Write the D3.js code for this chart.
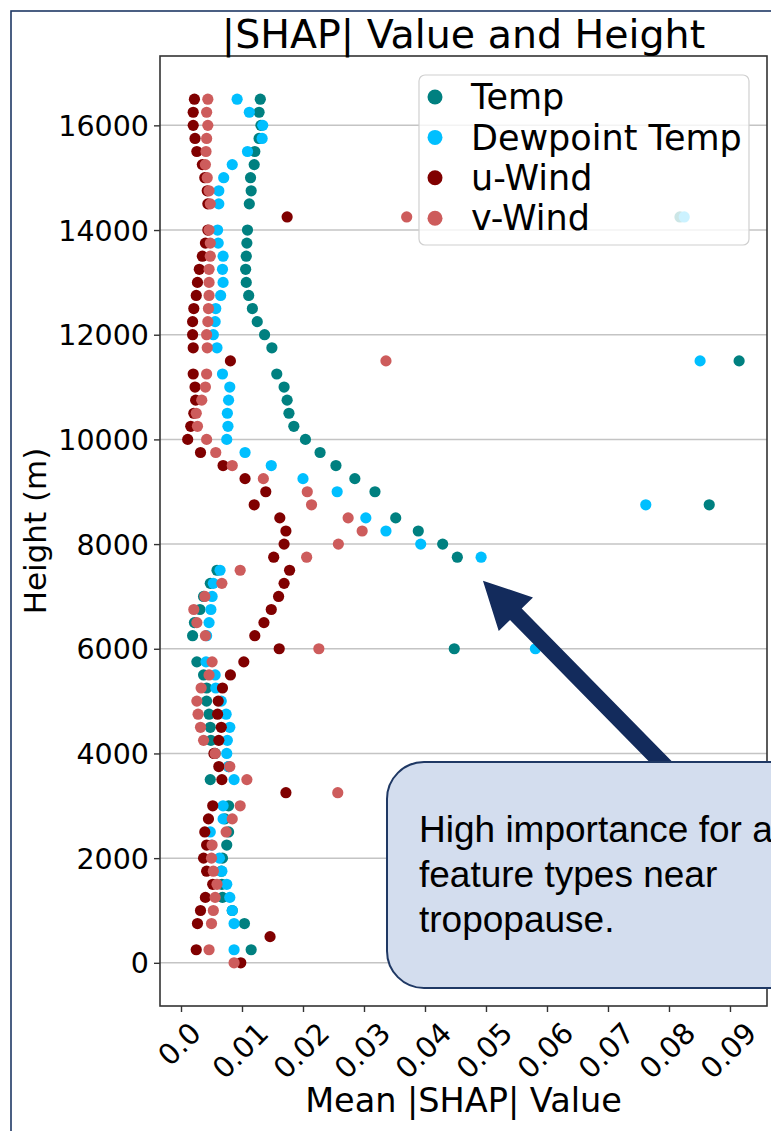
<!DOCTYPE html>
<html>
<head>
<meta charset="utf-8">
<script src="https://cdn.jsdelivr.net/npm/d3@7"></script>
<style>
  html, body { margin: 0; padding: 0; background: #ffffff; }
  svg { display: block; }
</style>
</head>
<body>
<svg id="chart" width="771" height="1131"></svg>
<script>
// Height levels (m), listed from the top level down to the surface
const heights = [16500,16250,16000,15750,15500,15250,15000,14750,14500,14250,
  14000,13750,13500,13250,13000,12750,12500,12250,12000,11750,
  11500,11250,11000,10750,10500,10250,10000,9750,9500,9250,
  9000,8750,8500,8250,8000,7750,7500,7250,7000,6750,
  6500,6250,6000,5750,5500,5250,5000,4750,4500,4250,
  4000,3750,3500,3250,3000,2750,2500,2250,2000,1750,
  1500,1250,1000,750,500,250,0];

// Mean |SHAP| value per level for each feature type (null = no point drawn)
const tempShap = [0.0130,0.0128,0.0131,0.0128,0.0121,0.0120,0.0114,0.0115,0.0112,0.0818,
  0.0109,0.0108,0.0107,0.0106,0.0107,0.0111,0.0117,0.0125,0.0137,0.0149,
  0.0915,0.0157,0.0169,0.0174,0.0177,0.0185,0.0204,0.0228,0.0254,0.0285,
  0.0318,0.0866,0.0352,0.0389,0.0429,0.0453,0.0059,0.0048,0.0037,0.0031,
  0.0022,0.0019,0.0448,0.0026,0.0037,0.0042,0.0042,0.0046,0.0048,0.0049,
  0.0056,0.0078,0.0048,null,0.0078,0.0072,0.0078,0.0075,0.0068,0.0066,
  0.0067,0.0068,0.0084,0.0104,null,0.0115,null];

const dewShap = [0.0092,0.0112,0.0134,0.0133,0.0109,0.0084,0.0070,0.0062,0.0062,0.0825,
  0.0060,0.0061,0.0069,0.0068,0.0069,0.0065,0.0057,0.0056,0.0053,0.0059,
  0.0851,0.0068,0.0080,0.0078,0.0076,0.0077,0.0075,0.0105,0.0148,0.0200,
  0.0256,0.0762,0.0303,0.0336,0.0393,0.0492,0.0064,0.0053,0.0051,0.0049,
  0.0046,0.0042,0.0581,0.0041,0.0056,0.0057,0.0066,0.0074,0.0080,0.0076,
  0.0075,0.0078,0.0087,null,0.0069,0.0069,0.0048,0.0050,0.0063,0.0067,
  0.0075,0.0080,0.0084,0.0087,null,0.0087,null];

const uWindShap = [0.0022,0.0020,0.0020,0.0023,0.0026,0.0035,0.0039,0.0043,0.0044,0.0174,
  0.0044,0.0040,0.0035,0.0030,0.0027,0.0025,0.0021,0.0019,0.0019,0.0020,
  0.0081,0.0020,0.0023,0.0024,0.0021,0.0016,0.0011,0.0032,0.0069,0.0105,
  0.0139,0.0120,0.0162,0.0172,0.0169,0.0152,0.0178,0.0169,0.0160,0.0148,
  0.0136,0.0121,0.0161,0.0103,0.0081,0.0068,0.0061,0.0060,0.0066,0.0062,
  0.0054,0.0062,0.0067,0.0172,0.0052,0.0045,0.0039,0.0042,0.0037,0.0042,
  0.0052,0.0040,0.0032,0.0027,0.0146,0.0025,0.0098];

const vWindShap = [0.0044,0.0042,0.0044,0.0042,0.0041,0.0040,0.0043,0.0046,0.0048,0.0370,
  0.0046,0.0048,0.0048,0.0046,0.0046,0.0046,0.0045,0.0044,0.0042,0.0043,
  0.0336,0.0042,0.0040,0.0034,0.0025,0.0027,0.0042,0.0057,0.0084,0.0135,
  0.0207,0.0214,0.0274,0.0297,0.0258,0.0206,0.0097,0.0067,0.0039,0.0021,
  0.0026,0.0040,0.0226,0.0051,0.0046,0.0033,0.0026,0.0028,0.0032,0.0037,
  0.0056,0.0080,0.0108,0.0257,0.0097,0.0084,0.0074,0.0051,0.0050,0.0053,
  0.0059,0.0056,0.0053,0.0050,null,0.0046,0.0087];

const seriesNames = ["Temp", "Dewpoint Temp", "u-Wind", "v-Wind"];
const seriesColors = ["#008080", "#00bfff", "#800000", "#cd5c5c"];
const seriesValues = [tempShap, dewShap, uWindShap, vWindShap];

const yTickValues = [0, 2000, 4000, 6000, 8000, 10000, 12000, 14000, 16000];
const xTickValues = [0, 0.01, 0.02, 0.03, 0.04, 0.05, 0.06, 0.07, 0.08, 0.09];
const xTickLabels = ["0.0", "0.01", "0.02", "0.03", "0.04", "0.05", "0.06", "0.07", "0.08", "0.09"];

const titleText = "|SHAP| Value and Height";
const xLabelText = "Mean |SHAP| Value";
const yLabelText = "Height (m)";
const noteLines = ["High importance for all", "feature types near", "tropopause."];

// ---------------------------------------------------------------------------
const svg = d3.select("#chart");
const W = 771, H = 1131;
const plot = { left: 160, right: 767, top: 56, bottom: 1006 };
const FONT = "'DejaVu Sans', sans-serif";

const x = d3.scaleLinear().domain([-0.003443, 0.09607]).range([plot.left, plot.right]);
const y = d3.scaleLinear().domain([-825, 17325]).range([plot.bottom, plot.top]);

svg.append("rect").attr("width", W).attr("height", H).attr("fill", "#ffffff");

// slide frame around the figure
svg.append("rect")
  .attr("x", 11).attr("y", 11).attr("width", 800).attr("height", 1160)
  .attr("fill", "none").attr("stroke", "#1f3864").attr("stroke-width", 1.6);

// horizontal grid lines
svg.append("g").selectAll("line").data(yTickValues).join("line")
  .attr("x1", plot.left).attr("x2", plot.right)
  .attr("y1", d => y(d)).attr("y2", d => y(d))
  .attr("stroke", "#c4c4c4").attr("stroke-width", 1.5);

// points, one layer per feature type
svg.append("clipPath").attr("id", "plotclip")
  .append("rect").attr("x", plot.left).attr("y", plot.top)
  .attr("width", plot.right - plot.left).attr("height", plot.bottom - plot.top);

const pts = svg.append("g").attr("clip-path", "url(#plotclip)");
seriesValues.forEach((vals, si) => {
  const rows = heights.map((h, i) => ({ h, v: vals[i] })).filter(d => d.v !== null);
  pts.append("g").selectAll("circle").data(rows).join("circle")
    .attr("cx", d => x(d.v))
    .attr("cy", d => y(d.h))
    .attr("r", 5.6)
    .attr("fill", seriesColors[si]);
});

// axes frame
svg.append("rect")
  .attr("x", plot.left).attr("y", plot.top)
  .attr("width", plot.right - plot.left).attr("height", plot.bottom - plot.top)
  .attr("fill", "none").attr("stroke", "#333333").attr("stroke-width", 1.6);

// y axis
const yAxis = d3.axisLeft(y).tickValues(yTickValues).tickSize(6).tickPadding(5)
  .tickFormat(d3.format("d"));
const gy = svg.append("g").attr("transform", `translate(${plot.left},0)`).call(yAxis);
gy.select(".domain").remove();
gy.selectAll(".tick line").attr("stroke", "#333333").attr("stroke-width", 1.4);
gy.selectAll(".tick text").attr("font-family", FONT).attr("font-size", 28.5)
  .attr("fill", "#000000").attr("dy", "0.35em");

// x axis with 45° labels centred under each tick
const xAxis = d3.axisBottom(x).tickValues(xTickValues).tickSize(6)
  .tickFormat((d, i) => xTickLabels[i]);
const gx = svg.append("g").attr("transform", `translate(0,${plot.bottom})`).call(xAxis);
gx.select(".domain").remove();
gx.selectAll(".tick line").attr("stroke", "#333333").attr("stroke-width", 1.4);
const xFont = 29;
gx.selectAll(".tick text")
  .attr("font-family", FONT).attr("font-size", xFont).attr("fill", "#000000")
  .attr("text-anchor", "middle").attr("dominant-baseline", "central")
  .attr("y", null).attr("dy", null)
  .each(function () {
    const w = this.getComputedTextLength();
    const side = (w + xFont * 1.05) / Math.SQRT2;
    d3.select(this).attr("transform", `translate(-2,${11 + side / 2}) rotate(-45)`);
  });

// titles
svg.append("text").attr("x", (plot.left + plot.right) / 2).attr("y", 48)
  .attr("text-anchor", "middle").attr("font-family", FONT).attr("font-size", 39.5)
  .attr("fill", "#000000").text(titleText);

svg.append("text").attr("x", (plot.left + plot.right) / 2).attr("y", 1112)
  .attr("text-anchor", "middle").attr("font-family", FONT).attr("font-size", 33.5)
  .attr("fill", "#000000").text(xLabelText);

svg.append("text")
  .attr("transform", `translate(46,${(plot.top + plot.bottom) / 2}) rotate(-90)`)
  .attr("text-anchor", "middle").attr("font-family", FONT).attr("font-size", 31)
  .attr("fill", "#000000").text(yLabelText);

// legend
const lg = svg.append("g");
lg.append("rect").attr("x", 419).attr("y", 75).attr("width", 330).attr("height", 170)
  .attr("rx", 6).attr("fill", "#ffffff").attr("fill-opacity", 0.8)
  .attr("stroke", "#d0d0d0").attr("stroke-width", 1.2);
const legendRows = seriesNames.map((n, i) => ({ n, c: seriesColors[i], i }));
const lgItem = lg.selectAll("g.item").data(legendRows).join("g")
  .attr("transform", d => `translate(435,${97 + d.i * 40.4})`);
lgItem.append("circle").attr("r", 7.5).attr("fill", d => d.c);
lgItem.append("text").attr("x", 36).attr("dy", "0.35em")
  .attr("font-family", FONT).attr("font-size", 35).attr("fill", "#000000")
  .text(d => d.n);

// annotation arrow pointing to the tropopause points
const tip = [x(0.0495), y(7300)];
const tail = [x(0.0795), y(3740)];
const dx = tail[0] - tip[0], dy = tail[1] - tip[1];
const len = Math.hypot(dx, dy);
const ux = dx / len, uy = dy / len, px = -uy, py = ux;
const headLen = 47, headHalf = 24, shaftHalf = 8.2;
const P = (a, b) => [tip[0] + ux * a + px * b, tip[1] + uy * a + py * b];
const arrowPts = [
  P(0, 0), P(headLen, headHalf), P(headLen, shaftHalf), P(len, shaftHalf),
  P(len, -shaftHalf), P(headLen, -shaftHalf), P(headLen, -headHalf)
];
svg.append("polygon").attr("points", arrowPts.map(p => p.join(",")).join(" "))
  .attr("fill", "#132b5c");

// annotation callout box
svg.append("rect").attr("x", 387).attr("y", 762).attr("width", 430).attr("height", 226)
  .attr("rx", 37).attr("fill", "#d3ddee").attr("stroke", "#1f3864").attr("stroke-width", 2);
svg.append("g").selectAll("text").data(noteLines).join("text")
  .attr("x", 419).attr("y", (d, i) => 842 + i * 45)
  .attr("font-family", "'Liberation Sans', Arial, sans-serif").attr("font-size", 37)
  .attr("fill", "#000000").text(d => d);
</script>
</body>
</html>
